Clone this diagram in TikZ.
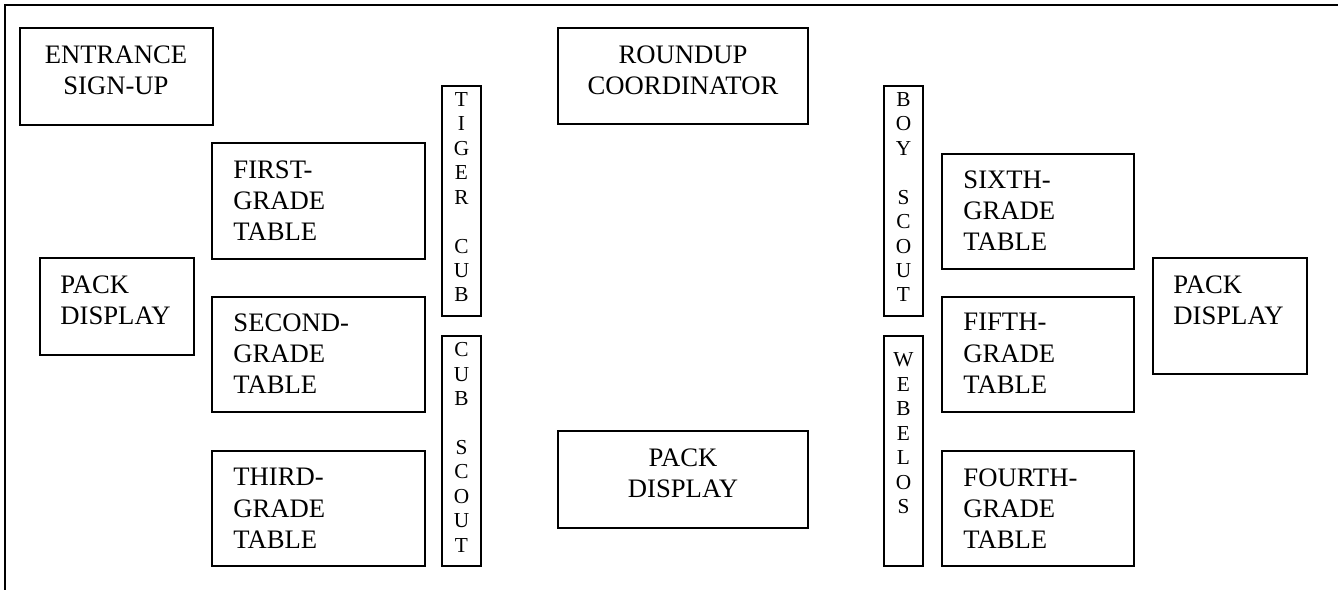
\documentclass[tikz,border=0pt]{standalone}
\usepackage{fontspec}
\setmainfont{Liberation Serif}
\tikzset{
  box/.style={line width=0.95pt},
  strip/.style={line width=0.7pt},
  lbl/.style={inner sep=0pt, font=\fontsize{12}{14}\selectfont},
  lblL/.style={lbl, anchor=north west, align=left},
  lblC/.style={lbl, anchor=north, align=center},
  vlbl/.style={inner sep=0pt, anchor=north, align=center, font=\fontsize{9.6}{11}\selectfont}
}
\begin{document}
\begin{tikzpicture}[x=0.45pt, y=-0.45pt]
    \useasboundingbox (0,0) rectangle (1338,590);
    % marco del salon
    \draw[line width=1.3pt] (1338,5) -- (5,5) -- (5,590);
    % entrada y coordinador
    \draw[box] (20,28) rectangle (213,125);
    \node[lblC] (entrance) at (116,45) {ENTRANCE\\SIGN-UP};
    \draw[box] (558,28) rectangle (808,124);
    \node[lblC] (roundup) at (683,45) {ROUNDUP\\COORDINATOR};
    % mesas del lado izquierdo
    \draw[box] (212,143) rectangle (425,259);
    \node[lblL] (first) at (233,160) {FIRST-\\GRADE\\TABLE};
    \draw[box] (212,297) rectangle (425,412);
    \node[lblL] (second) at (233,313) {SECOND-\\GRADE\\TABLE};
    \draw[box] (212,451) rectangle (425,566);
    \node[lblL] (third) at (233,468) {THIRD-\\GRADE\\TABLE};
    % mesas del lado derecho
    \draw[box] (942,154) rectangle (1134,269);
    \node[lblL] (sixth) at (963,170) {SIXTH-\\GRADE\\TABLE};
    \draw[box] (942,297) rectangle (1134,412);
    \node[lblL] (fifth) at (963,313) {FIFTH-\\GRADE\\TABLE};
    \draw[box] (942,451) rectangle (1134,566);
    \node[lblL] (fourth) at (963,468) {FOURTH-\\GRADE\\TABLE};
    % exhibiciones
    \draw[box] (40,258) rectangle (194,355);
    \node[lblL] (packleft) at (60,275) {PACK\\DISPLAY};
    \draw[box] (558,431) rectangle (808,528);
    \node[lblC] (packmid) at (683,448) {PACK\\DISPLAY};
    \draw[box] (1153,258) rectangle (1307,374);
    \node[lblL] (packright) at (1173,275) {PACK\\DISPLAY};
    % letreros verticales
    \draw[strip] (442,86) rectangle (481,316);
    \node[vlbl] (tiger) at (461.5,92) {T\\I\\G\\E\\R\\~\\C\\U\\B};
    \draw[strip] (442,336) rectangle (481,566);
    \node[vlbl] (cubscout) at (461.5,342) {C\\U\\B\\~\\S\\C\\O\\U\\T};
    \draw[strip] (884,86) rectangle (923,316);
    \node[vlbl] (boyscout) at (903.5,92) {B\\O\\Y\\~\\S\\C\\O\\U\\T};
    \draw[strip] (884,336) rectangle (923,566);
    \node[vlbl] (webelos) at (903.5,342) {~\\W\\E\\B\\E\\L\\O\\S};
\end{tikzpicture}
\end{document}
